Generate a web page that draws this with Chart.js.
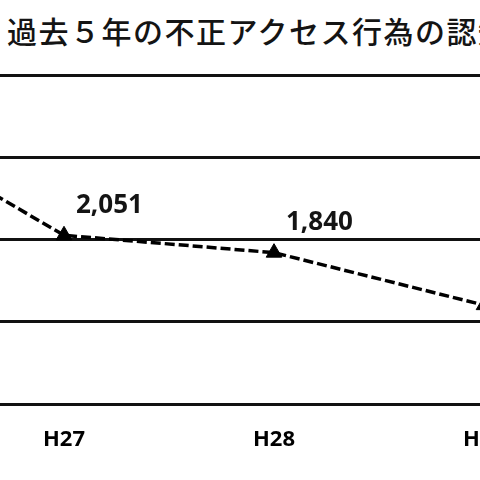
<!DOCTYPE html>
<html lang="ja">
<head>
<meta charset="utf-8">
<script src="https://cdn.jsdelivr.net/npm/chart.js@4/dist/chart.umd.min.js"></script>
<style>
  html, body { margin: 0; padding: 0; width: 480px; height: 480px; overflow: hidden; background: #fff; position: relative; }
  #title { position: absolute; left: 7px; top: 15px; font-family: "Noto Sans CJK JP", sans-serif; font-size: 30px; line-height: 30px; letter-spacing: 1.5px; font-weight: 500; color: #141414; white-space: nowrap; }
  #c { position: absolute; left: -400px; top: 0; }
</style>
</head>
<body>
<div id="title">過去５年の不正アクセス行為の認知件数の推移</div>
<canvas id="c" width="928" height="480"></canvas>
<script>
const categories = ['H25', 'H26', 'H27', 'H28', 'H29'];
const counts = [2951, 3545, 2051, 1840, 1202];
const yTicks = [0, 1000, 2000, 3000, 4000];

const valueLabels = {
  id: 'valueLabels',
  afterDatasetsDraw(chart) {
    const ctx = chart.ctx;
    const meta = chart.getDatasetMeta(0);
    ctx.save();
    ctx.font = 'bold 26px "Open Sans", sans-serif';
    ctx.fillStyle = '#141414';
    ctx.textAlign = 'left';
    ctx.textBaseline = 'middle';
    meta.data.forEach((pt, i) => {
      ctx.fillText(counts[i].toLocaleString('en-US'), pt.x + 12, pt.y - 30);
    });
    ctx.restore();
  }
};

new Chart(document.getElementById('c'), {
  type: 'line',
  data: {
    labels: categories,
    datasets: [{
      data: counts,
      borderColor: '#000',
      borderWidth: 3.5,
      borderDash: [10, 4],
      tension: 0,
      fill: false,
      pointStyle: 'triangle',
      pointRadius: 9,
      pointBackgroundColor: '#000',
      pointBorderColor: '#000',
      pointBorderWidth: 1,
      clip: false
    }]
  },
  options: {
    responsive: false,
    animation: false,
    devicePixelRatio: 1,
    layout: { padding: { left: 26, right: 30, top: 75, bottom: 0 } },
    plugins: { legend: { display: false }, tooltip: { enabled: false }, title: { display: false } },
    scales: {
      x: {
        offset: false,
        grid: { display: false, drawTicks: false },
        border: { display: false },
        ticks: { color: '#000', padding: 23, font: { family: '"Open Sans", sans-serif', size: 22, weight: 'bold' } },
        afterFit(scale) { scale.height = 76; }
      },
      y: {
        min: 0,
        max: 4000,
        afterBuildTicks(scale) { scale.ticks = yTicks.map(v => ({ value: v })); },
        ticks: { display: false },
        grid: { color: '#111', lineWidth: 3, drawTicks: false },
        border: { display: false },
        afterFit(scale) { scale.width = 0; }
      }
    }
  },
  plugins: [valueLabels]
});
</script>
</body>
</html>
